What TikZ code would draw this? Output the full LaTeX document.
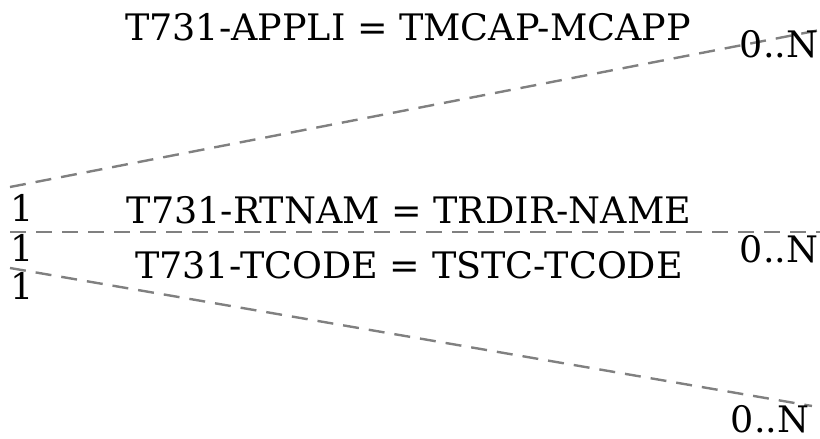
\documentclass[tikz,border=0pt]{standalone}
\usepackage{fontspec}
\setmainfont{DejaVu Serif}
\usepackage{tikz}
\usetikzlibrary{positioning, calc}
\definecolor{link-gray}{HTML}{808080}

\begin{document}
\begin{tikzpicture}[
    x=1pt, y=-1pt,
    link/.style={draw=link-gray, line width=2.4pt, dash pattern=on 16pt off 10pt},
    lbl/.style={font=\fontsize{36.5}{38}\selectfont, inner sep=0pt, anchor=center},
    card/.style={font=\fontsize{36.5}{38}\selectfont, inner sep=0pt, anchor=center}
]
    \useasboundingbox (0,0) rectangle (820,439);

    % end points
    \coordinate (l1) at (10,187);
    \coordinate (r1) at (820,30);
    \coordinate (l2) at (10,232);
    \coordinate (r2) at (820,232);
    \coordinate (l3) at (10,268);
    \coordinate (r3) at (812,406);

    \draw[link] (l1) -- (r1);
    \draw[link] (l2) -- (r2);
    \draw[link] (l3) -- (r3);

    \node[lbl] (j1) at (408,27) {T731-APPLI = TMCAP-MCAPP};
    \node[lbl] (j2) at (409,210) {T731-RTNAM = TRDIR-NAME};
    \node[lbl] (j3) at (409,265) {T731-TCODE = TSTC-TCODE};

    \node[card] (c1) at (22,208) {1};
    \node[card] (c2) at (22,248) {1};
    \node[card] (c3) at (22,286) {1};

    \node[card] (n1) at (779,44) {0..N};
    \node[card] (n2) at (779,249) {0..N};
    \node[card] (n3) at (770,419) {0..N};
\end{tikzpicture}
\end{document}
